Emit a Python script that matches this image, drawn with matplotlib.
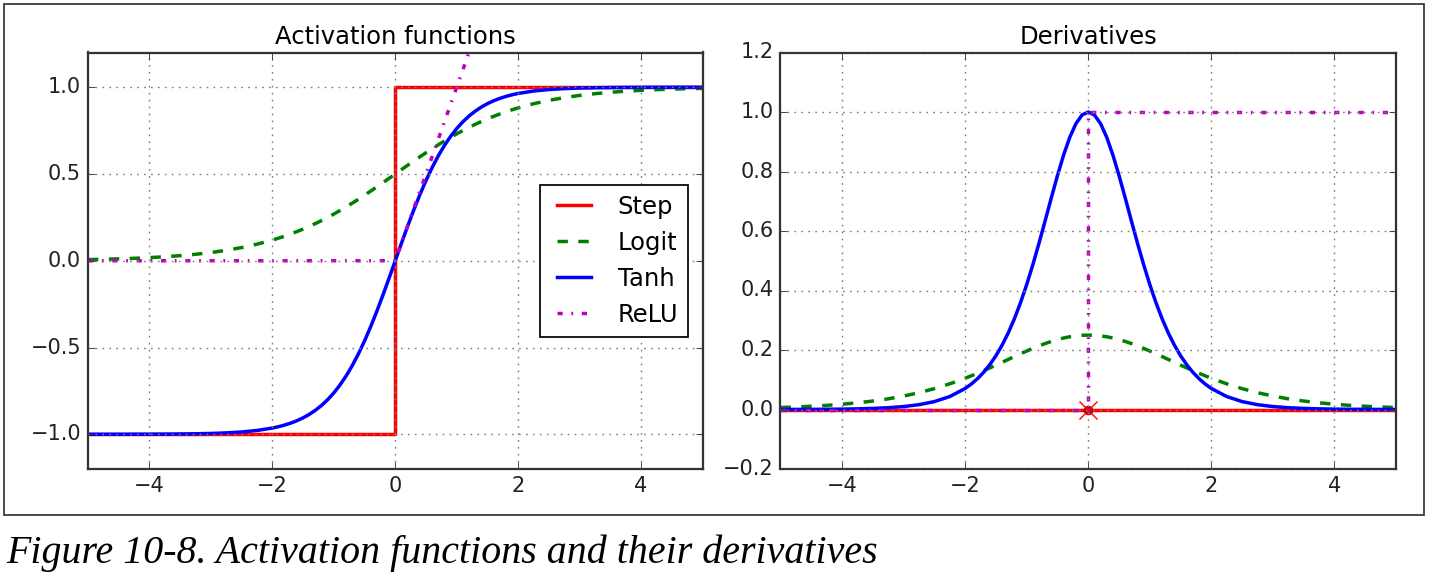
import matplotlib
matplotlib.use("Agg")
import matplotlib.pyplot as plt
from matplotlib.patches import Rectangle

plt.style.use('classic')
plt.rcParams['figure.facecolor'] = 'white'
plt.rcParams['savefig.facecolor'] = 'white'
plt.rcParams['font.family'] = ['DejaVu Sans']

# x grid
z = [-5, -4.75, -4.5, -4.25, -4, -3.75, -3.5, -3.25, -3, -2.75, -2.5, -2.25,
     -2.0, -1.9, -1.8, -1.7, -1.6, -1.5, -1.4, -1.3, -1.2, -1.1,
     -1.0, -0.9, -0.8, -0.7, -0.6, -0.5, -0.4, -0.3, -0.2, -0.1,
     0,
     0.1, 0.2, 0.3, 0.4, 0.5, 0.6, 0.7, 0.8, 0.9, 1.0,
     1.1, 1.2, 1.3, 1.4, 1.5, 1.6, 1.7, 1.8, 1.9, 2.0,
     2.25, 2.5, 2.75, 3, 3.25, 3.5, 3.75, 4, 4.25, 4.5, 4.75, 5]

# activation functions
step_x = [-5, 0, 0, 5]
step_y = [-1, -1, 1, 1]
logit_y = [0.0067, 0.0086, 0.0110, 0.0141, 0.0180, 0.0230, 0.0293, 0.0373, 0.0474, 0.0601, 0.0759, 0.0954,
           0.1192, 0.1301, 0.1419, 0.1545, 0.1680, 0.1824, 0.1978, 0.2142, 0.2315, 0.2497,
           0.2689, 0.2891, 0.3100, 0.3318, 0.3543, 0.3775, 0.4013, 0.4256, 0.4502, 0.4750,
           0.5,
           0.5250, 0.5498, 0.5744, 0.5987, 0.6225, 0.6457, 0.6682, 0.6900, 0.7110, 0.7311,
           0.7503, 0.7685, 0.7858, 0.8022, 0.8176, 0.8320, 0.8455, 0.8581, 0.8699, 0.8808,
           0.9047, 0.9241, 0.9399, 0.9526, 0.9627, 0.9707, 0.9770, 0.9820, 0.9859, 0.9890, 0.9914, 0.9933]
tanh_y = [-0.9999, -0.9999, -0.9998, -0.9996, -0.9993, -0.9989, -0.9982, -0.9970, -0.9951, -0.9919, -0.9866, -0.9780,
          -0.9640, -0.9562, -0.9468, -0.9354, -0.9217, -0.9052, -0.8854, -0.8617, -0.8337, -0.8005,
          -0.7616, -0.7163, -0.6640, -0.6044, -0.5370, -0.4621, -0.3799, -0.2913, -0.1974, -0.0997,
          0.0,
          0.0997, 0.1974, 0.2913, 0.3799, 0.4621, 0.5370, 0.6044, 0.6640, 0.7163, 0.7616,
          0.8005, 0.8337, 0.8617, 0.8854, 0.9052, 0.9217, 0.9354, 0.9468, 0.9562, 0.9640,
          0.9780, 0.9866, 0.9919, 0.9951, 0.9970, 0.9982, 0.9989, 0.9993, 0.9996, 0.9998, 0.9999, 0.9999]
relu_x = [-5, 0, 5]
relu_y = [0, 0, 5]

# derivatives
dstep_x = [-5, 5]
dstep_y = [0, 0]
dlogit_y = [0.0066, 0.0085, 0.0109, 0.0139, 0.0177, 0.0225, 0.0285, 0.0359, 0.0452, 0.0565, 0.0701, 0.0863,
            0.1050, 0.1132, 0.1217, 0.1306, 0.1398, 0.1492, 0.1587, 0.1683, 0.1779, 0.1874,
            0.1966, 0.2055, 0.2139, 0.2217, 0.2288, 0.2350, 0.2403, 0.2445, 0.2475, 0.2494,
            0.25,
            0.2494, 0.2475, 0.2445, 0.2403, 0.2350, 0.2288, 0.2217, 0.2139, 0.2055, 0.1966,
            0.1874, 0.1779, 0.1683, 0.1587, 0.1492, 0.1398, 0.1306, 0.1217, 0.1132, 0.1050,
            0.0863, 0.0701, 0.0565, 0.0452, 0.0359, 0.0285, 0.0225, 0.0177, 0.0139, 0.0109, 0.0085, 0.0066]
dtanh_y = [0.0002, 0.0003, 0.0005, 0.0008, 0.0013, 0.0022, 0.0036, 0.0060, 0.0099, 0.0162, 0.0266, 0.0435,
           0.0707, 0.0856, 0.1035, 0.1250, 0.1505, 0.1807, 0.2162, 0.2574, 0.3050, 0.3592,
           0.4200, 0.4869, 0.5591, 0.6347, 0.7116, 0.7864, 0.8556, 0.9151, 0.9610, 0.9901,
           1.0,
           0.9901, 0.9610, 0.9151, 0.8556, 0.7864, 0.7116, 0.6347, 0.5591, 0.4869, 0.4200,
           0.3592, 0.3050, 0.2574, 0.2162, 0.1807, 0.1505, 0.1250, 0.1035, 0.0856, 0.0707,
           0.0435, 0.0266, 0.0162, 0.0099, 0.0060, 0.0036, 0.0022, 0.0013, 0.0008, 0.0005, 0.0003, 0.0002]
drelu_x = [-5, 0, 0, 5]
drelu_y = [0, 0, 1, 1]

W, H = 1429, 580
fig = plt.figure(figsize=(W / 125, H / 125), dpi=125)

# outer frame
fig.patches.append(Rectangle((3.5 / W, 1 - 514.5 / H), (1424 - 3.5) / W, (514.5 - 3.5) / H,
                             transform=fig.transFigure, fill=False, edgecolor='#333333',
                             linewidth=1.0))

ax1 = fig.add_axes([88 / W, 1 - 469 / H, 614.5 / W, 416.5 / H])
ax2 = fig.add_axes([780.5 / W, 1 - 469 / H, 615.5 / W, 416.5 / H])

def style(ax):
    ax.grid(True, color='0.5', linestyle=':', linewidth=0.8)
    for s in ax.spines.values():
        s.set_edgecolor('#333333')
        s.set_linewidth(1.3)
    ax.tick_params(labelsize=12, colors='#333333', labelcolor='#222222')

ax1.plot(step_x, step_y, "r-", linewidth=2, label="Step")
ax1.plot(z, logit_y, "g--", linewidth=2, label="Logit")
ax1.plot(z, tanh_y, "b-", linewidth=2, label="Tanh")
ax1.plot(relu_x, relu_y, "m-.", linewidth=2, label="ReLU")
style(ax1)
ax1.legend(loc="center right", fontsize=14, framealpha=1, borderaxespad=0.6)
ax1.set_title("Activation functions", fontsize=14)
ax1.axis([-5, 5, -1.2, 1.2])
ax1.set_yticks([-1.0, -0.5, 0.0, 0.5, 1.0])

ax2.plot(dstep_x, dstep_y, "r-", linewidth=2, label="Step")
ax2.plot(0, 0, "o", color='#c00000', markeredgecolor='#c00000', markersize=5)
ax2.plot(0, 0, "rx", markersize=10, markeredgewidth=0.8)
ax2.plot(z, dlogit_y, "g--", linewidth=2, label="Logit")
ax2.plot(z, dtanh_y, "b-", linewidth=2, label="Tanh")
ax2.plot(drelu_x, drelu_y, "m-.", linewidth=2, label="ReLU")
style(ax2)
ax2.set_title("Derivatives", fontsize=14)
ax2.axis([-5, 5, -0.2, 1.2])

fig.text(6 / W, 1 - 563 / H, "Figure 10-8. Activation functions and their derivatives",
         fontsize=23, style='italic', family='Liberation Serif', ha='left', va='baseline')

fig.savefig("out.png", dpi=125)
